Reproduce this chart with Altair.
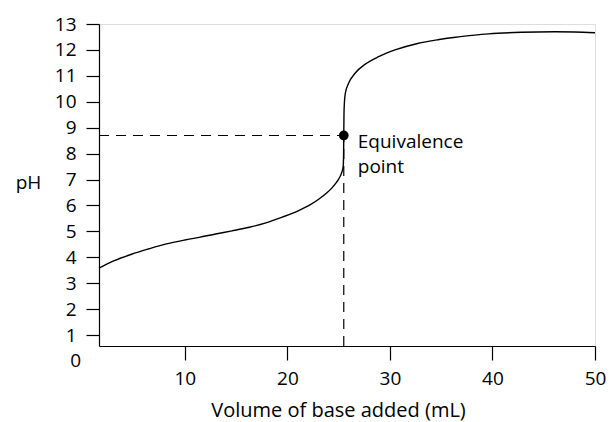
import altair as alt
import pandas as pd

# Titration curve
volume = [1.63, 3.0, 4.8, 6.5, 8.1, 10.0, 11.4, 13.0, 14.6, 16.3, 17.9, 19.5, 21.1, 22.2,
          23.05, 23.8, 24.35, 24.75, 25.05, 25.3, 25.44, 25.48, 25.5, 25.52, 25.56, 25.65,
          25.97, 26.6, 27.6, 28.9, 30.5, 32.7, 34.8, 36.4, 38.0, 39.6, 42.8, 46.1, 48.0, 50.0]
ph = [3.58, 3.85, 4.12, 4.33, 4.51, 4.67, 4.77, 4.9, 5.02, 5.16, 5.33, 5.55, 5.8, 6.02,
      6.24, 6.47, 6.68, 6.87, 7.05, 7.27, 7.5, 7.9, 8.7, 9.5, 9.95, 10.32,
      10.71, 11.1, 11.45, 11.74, 12.0, 12.25, 12.4, 12.49, 12.56, 12.62, 12.68, 12.7, 12.69, 12.66]

eq_volume = [25.5]
eq_ph = [8.7]
eq_label = [["Equivalence", "point"]]

x_ticks = [10, 20, 30, 40, 50]
y_ticks = [1, 2, 3, 4, 5, 6, 7, 8, 9, 10, 11, 12, 13]
x_min, x_max = 1.63, 50
y_min, y_max = 0.58, 13

FONT = "Open Sans"
FS = 19

curve_df = pd.DataFrame({"volume": volume, "ph": ph})
eq_df = pd.DataFrame({"volume": eq_volume, "ph": eq_ph, "x0": [x_min], "y0": [y_min],
                      "label": eq_label})
zero_df = pd.DataFrame({"ph": [0], "t": ["0"]})

xs = alt.Scale(domain=[x_min, x_max], nice=False, zero=False)
ys = alt.Scale(domain=[y_min, y_max], nice=False, zero=False)

x_axis = alt.Axis(values=x_ticks, title="Volume of base added (mL)", grid=False,
                  domainColor="black", tickColor="black", domainWidth=1.2, tickWidth=1.2,
                  tickSize=14, labelPadding=9, labelFontSize=FS, labelColor="black",
                  labelFont=FONT, titleFont=FONT, titleFontSize=20, titleFontWeight="normal",
                  titleColor="black", titleX=239, titleY=70, titleAlign="center",
                  titleBaseline="alphabetic", titleAnchor="start", labelOverlap=False,
                  labelFlush=False)
y_axis = alt.Axis(values=y_ticks, title="pH", grid=False,
                  domainColor="black", tickColor="black", domainWidth=1.2, tickWidth=1.2,
                  tickSize=13, labelPadding=10, labelFontSize=FS, labelColor="black",
                  labelFont=FONT, titleFont=FONT, titleFontSize=FS, titleFontWeight="normal",
                  titleColor="black", titleAngle=0, titleX=-71, titleY=158,
                  titleAlign="center", titleBaseline="middle", titleAnchor="start",
                  labelOverlap=False, labelFlush=False)


def X(field):
    return alt.X(field, type="quantitative", scale=xs, axis=x_axis)


def Y(field):
    return alt.Y(field, type="quantitative", scale=ys, axis=y_axis)


curve = alt.Chart(curve_df).mark_line(color="black", strokeWidth=1.4, interpolate="monotone").encode(
    x=X("volume"), y=Y("ph"))

hdash = alt.Chart(eq_df).mark_rule(color="black", strokeWidth=1.2, strokeDash=[10, 7]).encode(
    x=X("x0"), x2="volume:Q", y=Y("ph"))
vdash = alt.Chart(eq_df).mark_rule(color="black", strokeWidth=1.2, strokeDash=[10, 7]).encode(
    x=X("volume"), y=Y("y0"), y2="ph:Q")

point = alt.Chart(eq_df).mark_point(filled=True, color="black", size=95, opacity=1).encode(
    x=X("volume"), y=Y("ph"))

label = alt.Chart(eq_df).mark_text(align="left", baseline="alphabetic", dx=14, dy=13,
                                   fontSize=FS, font=FONT, color="black", lineHeight=25).encode(
    x=X("volume"), y=Y("ph"), text="label")

zero = alt.Chart(zero_df).mark_text(align="right", baseline="middle", fontSize=FS, font=FONT,
                                    color="black").encode(
    x=alt.value(-18), y=Y("ph"), text="t:N")

chart = alt.layer(curve, hdash, vdash, point, label, zero).properties(
    width=496, height=322,
    autosize=alt.AutoSizeParams(type="none"),
    padding={"left": 91, "top": 16, "right": 11, "bottom": 75},
).configure_view(strokeWidth=0).configure(background="white")

chart.save("out.html", embed_options={"renderer": "svg", "actions": False})
